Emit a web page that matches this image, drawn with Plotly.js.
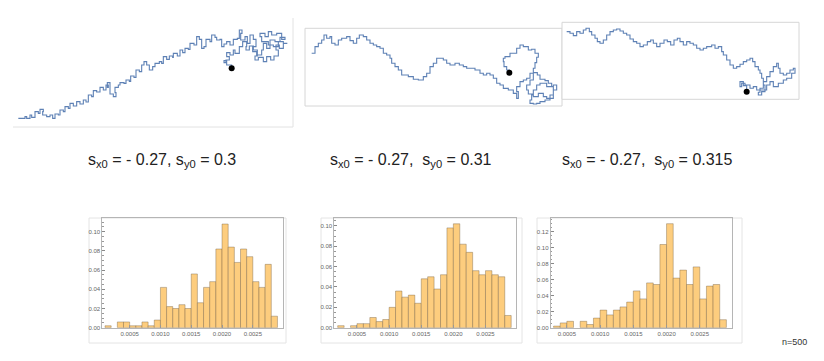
<!DOCTYPE html>
<html>
<head>
<meta charset="utf-8">
<script src="https://cdn.plot.ly/plotly-3.0.1.min.js"></script>
<style>
  html, body { margin: 0; padding: 0; background: #fff; }
  #chart { width: 824px; height: 361px; }
</style>
</head>
<body>
<div id="chart"></div>
<script>
// walk positions, relative to the start point (black dot)
var walk1X = [-640,-620,-615,-605,-600,-590,-580,-575,-565,-567,-555,-545,-537,-530,-520,-515,-505,-500,-490,-485,-475,-465,-455,-445,-437,-430,-420,-415,-405,-395,-385,-377,-370,-373,-365,-355,-347,-350,-340,-335,-323,-317,-307,-303,-293,-287,-277,-270,-263,-255,-247,-237,-230,-217,-210,-205,-195,-187,-177,-175,-163,-155,-147,-140,-130,-125,-113,-105,-97,-90,-83,-77,-65,-60,-50,-45,-35,-30,-23,-15,-5,5,17,23,31,27,40,47,55,65,73,63,75,90,95,105,115,130,145,160,150,135,120,110,100,85,90,110,125,140,155,167,155,143,133,140,127,117,105,95,80,70,77,65,53,43,45,33,23,10,5,-5,-15,-7,-17,-23,-15,0];
var walk1Y = [-150,-145,-150,-140,-147,-130,-135,-123,-130,-140,-145,-140,-150,-137,-140,-125,-130,-115,-120,-105,-113,-100,-107,-95,-101,-80,-85,-67,-71,-57,-65,-50,-57,-43,-77,-85,-73,-57,-50,-43,-45,-35,-39,-23,-27,-5,-10,10,20,10,-5,5,15,20,15,35,27,37,33,45,37,55,47,60,57,75,70,95,87,60,65,87,80,100,93,85,87,65,73,80,70,87,90,115,105,85,95,75,100,87,65,50,40,55,75,60,85,80,93,87,105,100,110,95,105,95,80,70,65,80,75,75,60,70,55,37,25,35,20,33,25,37,55,67,55,65,80,65,45,55,40,47,35,25,17,23,10,0];

var walk2X = [-593,-583,-573,-563,-556,-548,-538,-533,-523,-513,-503,-488,-478,-468,-458,-450,-438,-428,-418,-408,-398,-388,-378,-368,-358,-353,-343,-333,-323,-313,-303,-288,-273,-258,-248,-238,-228,-218,-208,-198,-188,-178,-163,-150,-138,-128,-113,-103,-88,-78,-68,-58,-48,-38,-28,-18,-3,12,22,27,22,32,42,52,62,72,84,92,107,117,127,132,122,107,92,82,72,62,67,72,82,92,112,132,142,132,112,102,87,72,57,52,62,72,72,77,82,87,77,67,57,42,32,22,12,2,-13,-18,-16,-8,0];
var walk2Y = [58,78,88,98,113,103,108,88,83,98,103,108,96,88,103,113,108,98,88,83,78,73,58,53,43,28,18,8,-7,-7,-12,-20,-22,-12,-2,18,28,43,43,38,28,23,28,23,18,13,13,8,-2,-7,-2,-7,-17,-32,-37,-47,-52,-62,-77,-57,-42,-27,-22,-17,-2,0,-7,-20,-24,-32,-42,-67,-82,-87,-92,-94,-92,-82,-67,-52,-37,-32,-42,-37,-52,-77,-72,-62,-72,-64,-52,-37,-22,-12,13,30,46,58,70,68,78,83,73,58,58,48,43,33,18,8,0];

var walk3X = [-540,-530,-520,-510,-500,-490,-482,-472,-465,-455,-448,-440,-430,-420,-410,-400,-390,-380,-370,-360,-350,-340,-330,-320,-310,-298,-288,-280,-270,-260,-248,-238,-228,-218,-208,-200,-190,-180,-170,-160,-150,-140,-130,-120,-105,-95,-85,-75,-70,-60,-50,-40,-30,-20,-10,0,10,18,25,35,40,45,50,55,45,35,40,50,60,70,80,90,95,100,110,120,130,140,145,135,120,110,95,80,70,60,40,30,20,10,-5,-15,-20,-10,0];
var walk3Y = [180,175,168,180,175,185,190,180,170,160,150,145,155,170,180,185,188,182,175,170,158,150,145,135,140,150,155,145,135,145,155,150,140,155,160,150,140,150,145,140,130,125,130,135,140,130,135,120,110,95,80,70,75,82,90,95,100,90,75,65,55,40,20,0,-10,-2,10,30,45,60,75,85,70,55,50,55,65,70,55,40,35,25,15,30,20,5,5,15,10,20,25,15,30,18,0];

var startX = [0];
var startY = [0];

// histograms: probability per bin of width 0.0001, bins start at binStart
var binStart = [0.0001,0.0002,0.0003,0.0004,0.0005,0.0006,0.0007,0.0008,0.0009,0.0010,0.0011,0.0012,0.0013,0.0014,0.0015,0.0016,0.0017,0.0018,0.0019,0.0020,0.0021,0.0022,0.0023,0.0024,0.0025,0.0026,0.0027,0.0028];
var prob1 = [0.002,null,0.006,0.006,0.002,0.002,0.006,0.002,0.008,0.042,0.022,0.020,0.024,0.020,0.056,0.026,0.042,0.048,0.082,0.108,0.084,0.068,0.082,0.074,0.048,0.042,0.066,0.012];
var prob2 = [null,0.002,null,0.002,0.004,0.004,0.010,0.006,0.008,0.020,0.036,0.030,0.032,0.024,0.048,0.050,0.038,0.052,0.098,0.102,0.082,0.074,0.056,0.052,0.056,0.052,0.050,0.012];
var prob3 = [null,null,0.002,0.006,0.008,null,0.008,0.004,0.012,0.022,0.016,0.022,0.026,0.032,0.046,0.036,0.056,0.054,0.104,0.130,0.062,0.072,0.054,0.076,0.036,0.052,0.054,0.010];

var xTicks = [0.0005, 0.0010, 0.0015, 0.0020, 0.0025];
var xTickText = ['0.0005', '0.0010', '0.0015', '0.0020', '0.0025'];

var labels = [
  's<sub>x0</sub> = - 0.27, s<sub>y0</sub> = 0.3',
  's<sub>x0</sub> = - 0.27, &nbsp;s<sub>y0</sub> = 0.31',
  's<sub>x0</sub> = - 0.27, &nbsp;s<sub>y0</sub> = 0.315'
];

var W = 824, H = 361;
function px(x) { return x / W; }
function py(y) { return 1 - y / H; }

var blue = '#5e81b5';
var data = [];

function walkTrace(xs, ys, n) {
  return {
    x: xs, y: ys, xaxis: 'x' + n, yaxis: 'y' + n,
    type: 'scatter', mode: 'lines', line: {color: blue, width: 1.1, shape: 'hv'},
    hoverinfo: 'skip'
  };
}
function dotTrace(n) {
  return {
    x: startX, y: startY, xaxis: 'x' + n, yaxis: 'y' + n,
    type: 'scatter', mode: 'markers', marker: {color: '#000', size: 6}
  };
}
function histTrace(p, n) {
  return {
    x: binStart, y: p, xaxis: n == 1 ? 'x' : 'x' + n, yaxis: n == 1 ? 'y' : 'y' + n,
    type: 'bar', width: 0.0001, offset: 0,
    marker: {color: '#fdcd7e', line: {color: 'rgba(110,90,60,0.55)', width: 0.7}}
  };
}

data.push(histTrace(prob1, 1), histTrace(prob2, 2), histTrace(prob3, 3));
data.push(walkTrace(walk1X, walk1Y, 4), dotTrace(4));
data.push(walkTrace(walk2X, walk2Y, 5), dotTrace(5));
data.push(walkTrace(walk3X, walk3Y, 6), dotTrace(6));

function histX(dom, range) {
  return {
    domain: dom, range: range, showline: true, mirror: true, linecolor: '#b5b5b5', linewidth: 1,
    showgrid: false, zeroline: false, tickvals: xTicks, ticktext: xTickText,
    ticks: 'inside', ticklen: 3, tickcolor: '#999',
    tickfont: {family: 'Liberation Sans, Arial', size: 6, color: '#666'}
  };
}
function histY(dom, range, xa) {
  return {
    domain: dom, range: range, anchor: xa, showline: true, mirror: true, linecolor: '#b5b5b5', linewidth: 1,
    showgrid: false, zeroline: false, dtick: 0.02, tick0: 0, tickformat: '.2f',
    ticks: 'inside', ticklen: 3, tickcolor: '#888',
    minor: {ticks: 'inside', ticklen: 1.5, dtick: 0.005, tickcolor: '#999'},
    tickfont: {family: 'Liberation Sans, Arial', size: 6, color: '#666'}
  };
}
function hidden(dom, range, anchor) {
  return {domain: dom, range: range, anchor: anchor, visible: false, fixedrange: true};
}

var hy = [py(327.7), py(217.7)];

var layout = {
  width: W, height: H,
  margin: {l: 0, r: 0, t: 0, b: 0},
  paper_bgcolor: '#fff', plot_bgcolor: 'rgba(0,0,0,0)',
  showlegend: false, bargap: 0,
  font: {family: 'Liberation Sans, Arial, sans-serif'},

  xaxis: histX([px(102.3), px(283)], [0.000056, 0.00299]),
  yaxis: histY(hy, [0, 0.1146], 'x'),
  xaxis2: Object.assign(histX([px(334.3), px(515.7)], [0.000147, 0.00297]), {anchor: 'y2'}),
  yaxis2: histY(hy, [0, 0.108], 'x2'),
  xaxis3: Object.assign(histX([px(550.7), px(731.7)], [0.000257, 0.00298]), {anchor: 'y3'}),
  yaxis3: histY(hy, [0, 0.1375], 'x3'),

  xaxis4: hidden([px(13), px(293)], [-656, 184], 'y4'),
  yaxis4: hidden([py(127), py(0)], [-176, 205], 'x4'),
  xaxis5: hidden([px(305), px(568)], [-613, 176], 'y5'),
  yaxis5: hidden([py(106), py(28.3)], [-100, 133], 'x5'),
  xaxis6: hidden([px(562), px(799)], [-554, 157], 'y6'),
  yaxis6: hidden([py(99.3), py(22.3)], [-23, 208], 'x6'),

  shapes: [
    // picture borders
    {type: 'line', xref: 'paper', yref: 'paper', x0: px(293), x1: px(293), y0: py(18), y1: py(127), line: {color: '#e2e2e2', width: 1}},
    {type: 'line', xref: 'paper', yref: 'paper', x0: px(13), x1: px(293), y0: py(127), y1: py(127), line: {color: '#e2e2e2', width: 1}},
    {type: 'rect', xref: 'paper', yref: 'paper', x0: px(305), x1: px(562), y0: py(106), y1: py(28.3), line: {color: '#d6d6d6', width: 1}, layer: 'below'},
    {type: 'rect', xref: 'paper', yref: 'paper', x0: px(562), x1: px(799), y0: py(99.3), y1: py(22.3), fillcolor: '#fff', line: {color: '#d6d6d6', width: 1}, layer: 'below'},
    {type: 'rect', xref: 'paper', yref: 'paper', x0: px(89), x1: px(286), y0: py(343), y1: py(218), line: {color: '#e4e4e4', width: 1}, layer: 'below'},
    {type: 'rect', xref: 'paper', yref: 'paper', x0: px(321), x1: px(522), y0: py(343), y1: py(218), line: {color: '#e4e4e4', width: 1}, layer: 'below'},
    {type: 'rect', xref: 'paper', yref: 'paper', x0: px(537), x1: px(742), y0: py(343), y1: py(218), line: {color: '#e4e4e4', width: 1}, layer: 'below'}
  ],

  annotations: [
    {text: labels[0], x: px(162), y: py(160), xanchor: 'center', yanchor: 'middle', xref: 'paper', yref: 'paper', showarrow: false, font: {size: 16, color: '#222'}},
    {text: labels[1], x: px(411), y: py(160), xanchor: 'center', yanchor: 'middle', xref: 'paper', yref: 'paper', showarrow: false, font: {size: 16, color: '#222'}},
    {text: labels[2], x: px(647), y: py(160), xanchor: 'center', yanchor: 'middle', xref: 'paper', yref: 'paper', showarrow: false, font: {size: 16, color: '#222'}},
    {text: 'n=500', x: px(794), y: py(342), xanchor: 'center', yanchor: 'middle', xref: 'paper', yref: 'paper', showarrow: false, font: {size: 9, color: '#333'}}
  ]
};

Plotly.newPlot('chart', data, layout, {staticPlot: true});
</script>
</body>
</html>
